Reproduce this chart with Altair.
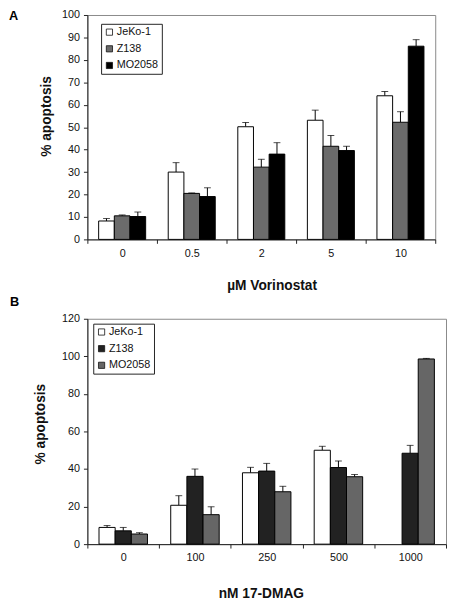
import altair as alt
import pandas as pd

lines = ["JeKo-1", "Z138", "MO2058"]

# Panel A: µM Vorinostat
conc_A = ["0", "0.5", "2", "5", "10"]
A_jeko = [8.2, 30.0, 50.2, 53.1, 64.0]
A_jeko_err = [1.1, 4.2, 1.9, 4.5, 1.9]
A_z138 = [10.5, 20.5, 32.2, 41.5, 52.2]
A_z138_err = [0.4, 0.2, 3.5, 4.8, 4.7]
A_mo = [10.2, 19.1, 38.0, 39.6, 86.1]
A_mo_err = [2.0, 3.9, 5.1, 1.9, 2.9]
A_colors = ["#ffffff", "#6b6b6b", "#000000"]

# Panel B: nM 17-DMAG
conc_B = ["0", "100", "250", "500", "1000"]
B_jeko = [8.9, 20.7, 38.0, 50.0, None]
B_jeko_err = [1.0, 5.1, 2.9, 2.1, None]
B_z138 = [7.1, 36.1, 38.9, 40.8, 48.4]
B_z138_err = [1.8, 3.9, 4.1, 3.5, 4.2]
B_mo = [5.4, 15.7, 27.9, 35.9, 98.6]
B_mo_err = [0.7, 4.2, 2.9, 1.2, 0.3]
B_colors = ["#ffffff", "#222222", "#666666"]

FONT = "Arial"


def make_df(concs, vals, errs):
    rows = []
    for s, v, e in zip(lines, vals, errs):
        for c, vv, ee in zip(concs, v, e):
            if vv is None:
                continue
            rows.append(dict(conc=c, line=s, value=vv, top=vv + ee))
    return pd.DataFrame(rows)


def panel(df, concs, colors, xtitle, ymax, ystep, w, h, label, lx, ly,
          legx, legy, ytpad, xtpad, xtitle_x, ytitle_y):
    x = alt.X("conc:N", sort=concs,
              scale=alt.Scale(domain=concs, paddingInner=0, paddingOuter=0),
              axis=alt.Axis(title=xtitle, labelAngle=0, tickBand="extent",
                            titlePadding=xtpad, titleX=xtitle_x))
    xo = alt.XOffset("line:N", sort=lines,
                     scale=alt.Scale(domain=lines, paddingInner=0, paddingOuter=0.72))
    yax = alt.Axis(title="% apoptosis", values=list(range(0, ymax + 1, ystep)),
                   titlePadding=ytpad, titleY=ytitle_y, labelOverlap=False)
    yscale = alt.Scale(domain=[0, ymax], nice=False)
    color = alt.Color("line:N", sort=lines,
                      scale=alt.Scale(domain=lines, range=colors),
                      legend=alt.Legend(title=None, orient="none", legendX=legx, legendY=legy,
                                        strokeColor="#222", fillColor="white", padding=3,
                                        symbolType="square", symbolSize=40,
                                        symbolStrokeColor="#111", symbolStrokeWidth=0.8,
                                        labelFontSize=11, labelFont=FONT, labelColor="#111",
                                        rowPadding=5, labelOffset=2, cornerRadius=0))
    base = alt.Chart(df)
    bars = base.mark_bar(stroke="black", strokeWidth=1).encode(
        x=x, xOffset=xo, y=alt.Y("value:Q", scale=yscale, axis=yax), color=color)
    rules = base.mark_rule(color="black", strokeWidth=1).encode(
        x=x, xOffset=xo, y=alt.Y("value:Q", scale=yscale, axis=yax), y2="top:Q")
    caps = base.mark_tick(color="black", size=7, thickness=1, orient="horizontal").encode(
        x=x, xOffset=xo, y=alt.Y("top:Q", scale=yscale, axis=yax))
    lab = alt.Chart(pd.DataFrame({"t": [label]})).mark_text(
        font=FONT, fontSize=13, fontWeight="bold", align="left", baseline="alphabetic",
        color="black").encode(text="t:N", x=alt.value(lx), y=alt.value(ly))
    return alt.layer(rules, bars, caps, lab).properties(width=w, height=h)


dfA = make_df(conc_A, [A_jeko, A_z138, A_mo], [A_jeko_err, A_z138_err, A_mo_err])
dfB = make_df(conc_B, [B_jeko, B_z138, B_mo], [B_jeko_err, B_z138_err, B_mo_err])

pA = panel(dfA, conc_A, A_colors, "µM Vorinostat", 100, 10, 355, 229, "A", -80, 5,
           14, 9, 8, 21, 188, 103)
pB = panel(dfB, conc_B, B_colors, "nM 17-DMAG", 120, 20, 366, 230, "B", -79, -13,
           6, 5, 14, 24, 177, 107)

chart = alt.vconcat(pA, pB, spacing=2).resolve_scale(
    color="independent", x="independent", y="independent", xOffset="independent"
).resolve_legend(color="independent").properties(
    padding={"left": 0, "top": -6, "right": 0, "bottom": 0}
).configure_view(
    stroke="#888888", strokeWidth=1
).configure_axis(
    grid=False, labelFont=FONT, titleFont=FONT, labelFontSize=11, labelColor="#111",
    titleFontSize=14, titleFontWeight="bold", titleColor="#111",
    domainColor="#222", tickColor="#222", tickSize=4, labelPadding=4
)

chart.save("out.html", embed_options={"renderer": "svg", "actions": False})
